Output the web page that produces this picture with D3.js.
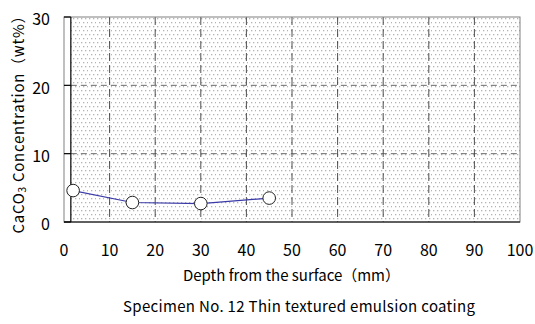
<!DOCTYPE html>
<html>
<head>
<meta charset="utf-8">
<script src="https://cdn.jsdelivr.net/npm/d3@7"></script>
<style>
  body { margin: 0; background: #fff; }
  text { font-family: "Noto Sans CJK JP", "Noto Sans", sans-serif; fill: #000; }
</style>
</head>
<body>
<div id="chart"></div>
<script>
(function () {
  'use strict';

  var w = 535,
      h = 324,
      margin = {top: 17, right: 15, bottom: 102, left: 64};

  var depth = [2, 15, 30, 45],
      concentration = [4.6, 2.85, 2.7, 3.5],
      xTicks = [0, 10, 20, 30, 40, 50, 60, 70, 80, 90, 100],
      yTicks = [0, 10, 20, 30],
      yAxisAt = 1.5;

  var iw = w - margin.left - margin.right,
      ih = h - margin.top - margin.bottom;

  var svg = d3.select('#chart').append('svg')
    .attr('width', w).attr('height', h);

  // dotted background fill
  var pat = svg.append('defs').append('pattern')
    .attr('id', 'dots')
    .attr('patternUnits', 'userSpaceOnUse')
    .attr('width', 8).attr('height', 8);
  pat.append('rect').attr('width', 8).attr('height', 8).attr('fill', '#fff');
  [[1, 1], [5, 1], [3, 5], [7, 5]].forEach(function (p) {
    pat.append('rect').attr('x', p[0]).attr('y', p[1])
      .attr('width', 1.3).attr('height', 1.3).attr('fill', '#b4b4b4');
  });

  var g = svg.append('g').attr('transform', 'translate(' + margin.left + ',' + margin.top + ')');

  var x = d3.scaleLinear().domain([0, 100]).range([0, iw]);
  var y = d3.scaleLinear().domain([0, 30]).range([ih, 0]);

  g.append('rect')
    .attr('x', x(yAxisAt)).attr('y', 0)
    .attr('width', iw - x(yAxisAt)).attr('height', ih)
    .attr('fill', 'url(#dots)');

  // dashed grid
  g.selectAll('.vgrid').data(xTicks.slice(1, -1)).enter().append('line')
    .attr('class', 'vgrid')
    .attr('x1', function (d) { return x(d); })
    .attr('x2', function (d) { return x(d); })
    .attr('y1', 0).attr('y2', ih)
    .attr('stroke', '#222').attr('stroke-width', 0.8)
    .attr('stroke-dasharray', '8,4');

  g.selectAll('.hgrid').data(yTicks.slice(1, -1)).enter().append('line')
    .attr('class', 'hgrid')
    .attr('x1', x(yAxisAt)).attr('x2', iw)
    .attr('y1', function (d) { return y(d); })
    .attr('y2', function (d) { return y(d); })
    .attr('stroke', '#444').attr('stroke-width', 0.8)
    .attr('stroke-dasharray', '6,4');

  // plot border
  g.append('rect')
    .attr('x', 0).attr('y', 0).attr('width', iw).attr('height', ih)
    .attr('fill', 'none').attr('stroke', '#808080').attr('stroke-width', 1);

  // y axis crossing near zero depth
  g.append('line')
    .attr('x1', x(yAxisAt)).attr('x2', x(yAxisAt))
    .attr('y1', 0).attr('y2', ih)
    .attr('stroke', '#000').attr('stroke-width', 1.2);

  g.selectAll('.ytick').data(yTicks).enter().append('line')
    .attr('class', 'ytick')
    .attr('x1', 0).attr('x2', x(yAxisAt))
    .attr('y1', function (d) { return y(d); })
    .attr('y2', function (d) { return y(d); })
    .attr('stroke', '#000').attr('stroke-width', 1.2);

  g.append('line')
    .attr('x1', 0).attr('x2', iw).attr('y1', ih).attr('y2', ih)
    .attr('stroke', '#000').attr('stroke-width', 1.2);

  g.selectAll('.ylab').data(yTicks).enter().append('text')
    .attr('x', -14).attr('y', function (d) { return y(d); })
    .attr('dy', '0.52em').attr('text-anchor', 'end')
    .attr('font-size', 16).text(function (d) { return d; });

  g.selectAll('.xlab').data(xTicks).enter().append('text')
    .attr('x', function (d) { return x(d); }).attr('y', ih + 34)
    .attr('text-anchor', 'middle')
    .attr('font-size', 16).text(function (d) { return d; });

  // series
  var pts = depth.map(function (d, i) { return {x: d, y: concentration[i]}; });
  var line = d3.line()
    .x(function (d) { return x(d.x); })
    .y(function (d) { return y(d.y); });

  g.append('path').attr('d', line(pts))
    .attr('fill', 'none').attr('stroke', '#3a3aa8').attr('stroke-width', 1.2);

  g.selectAll('.pt').data(pts).enter().append('circle')
    .attr('cx', function (d) { return x(d.x); })
    .attr('cy', function (d) { return y(d.y); })
    .attr('r', 6.3)
    .attr('fill', '#fff').attr('stroke', '#222').attr('stroke-width', 1);

  // titles
  svg.append('text')
    .attr('transform', 'translate(24,121) rotate(-90)')
    .attr('text-anchor', 'middle').attr('font-size', 15)
    .attr('textLength', 225).attr('lengthAdjust', 'spacing')
    .html('CaCO<tspan font-size="10" dy="2">3</tspan><tspan dy="-2"> Concentration（wt%）</tspan>');

  svg.append('text')
    .attr('x', 291.5).attr('y', 281)
    .attr('text-anchor', 'middle').attr('font-size', 15)
    .attr('textLength', 217).attr('lengthAdjust', 'spacing')
    .text('Depth from the surface（mm）');

  svg.append('text')
    .attr('x', 299).attr('y', 312)
    .attr('text-anchor', 'middle').attr('font-size', 15)
    .attr('textLength', 352).attr('lengthAdjust', 'spacing')
    .text('Specimen No. 12 Thin textured emulsion coating');
}());
</script>
</body>
</html>
